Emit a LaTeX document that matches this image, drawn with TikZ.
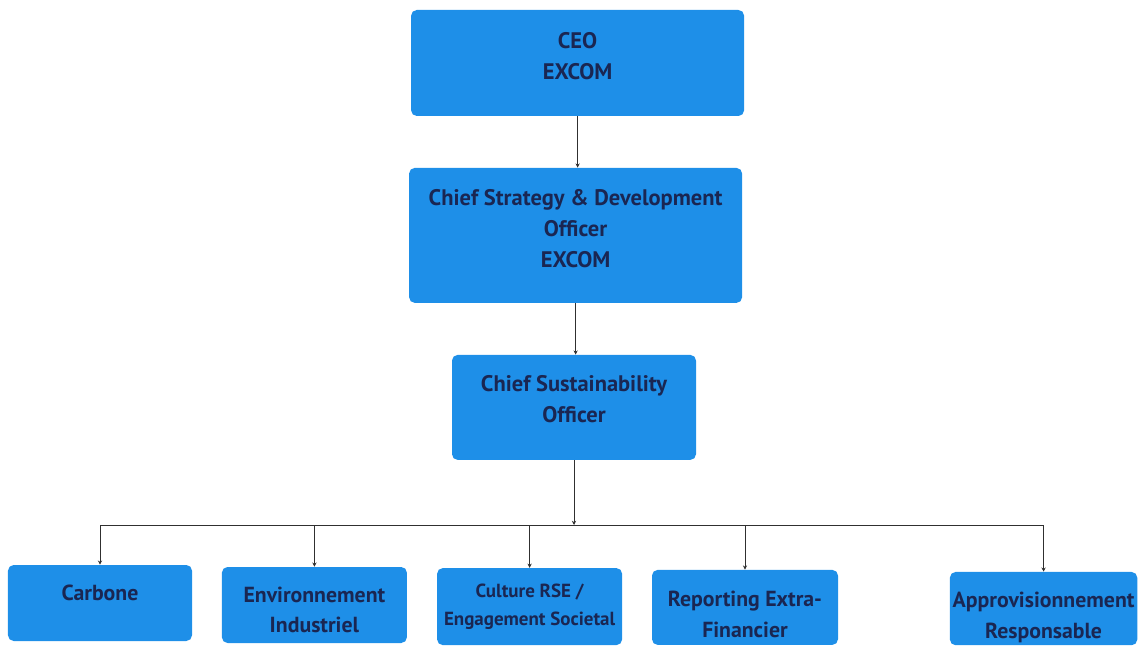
\documentclass[tikz,border=0pt]{standalone}
\usepackage{fontspec}
\setmainfont{PT Sans}
\usepackage{tikz}
\usetikzlibrary{arrows.meta,positioning,calc}
\definecolor{boxBlue}{HTML}{1E8FE8}
\definecolor{boxText}{HTML}{1A2652}
\definecolor{lineGray}{HTML}{303030}

\begin{document}
\begin{tikzpicture}[>={Stealth[length=3pt,width=3pt]},
  orgbox/.style={fill=boxBlue, rounded corners=4pt, align=center, text=boxText,
    font=\fontsize{16}{22}\selectfont\bfseries, inner sep=2pt},
  teambox/.style={orgbox, font=\fontsize{15.5}{22}\selectfont\bfseries},
  link/.style={->, lineGray, line width=0.6pt}]
\useasboundingbox (0,0) rectangle (28.475,16.125);
% top of the chart
\node[orgbox, minimum width=8.325cm, minimum height=2.65cm, text depth=10pt] (ceo) at (14.44,14.55) {CEO\\EXCOM};
\node[orgbox, minimum width=8.325cm, minimum height=3.375cm, text depth=10pt] (csdo) at (14.39,10.24)
  {Chief Strategy \& Development\\Officer\\EXCOM};
\node[orgbox, minimum width=6.1cm, minimum height=2.625cm, text depth=12pt] (cso) at (14.35,5.94)
  {Chief Sustainability\\Officer};
% teams
\node[teambox, minimum width=4.6cm, minimum height=1.9cm, text height=40pt] (carbone) at (2.5,1.05) {Carbone\\\phantom{X}};
\node[teambox, minimum width=4.625cm, minimum height=1.9cm, text height=40pt] (envind) at (7.86,1.0) {Environnement\\Industriel};
\node[teambox, minimum width=4.625cm, minimum height=1.925cm, font=\fontsize{13.5}{20}\selectfont\bfseries]
  (culture) at (13.24,0.96) {Culture RSE /\\Engagement Societal};
\node[teambox, minimum width=4.65cm, minimum height=1.875cm, text height=42.5pt] (reporting) at (18.625,0.94) {Reporting Extra-\\Financier};
\node[teambox, minimum width=4.675cm, minimum height=1.825cm, text height=45pt] (approv) at (26.09,0.91) {Approvisionnement\\Responsable};
% links
\coordinate (bus) at (cso.south |- 0,3.0);
\draw[link] (ceo.south) -- (ceo.south |- csdo.north);
\draw[link] (csdo.south) -- (csdo.south |- cso.north);
\draw[link] (cso.south) -- (bus);
\foreach \team in {carbone,envind,culture,reporting,approv}
  \draw[link] (bus) -| (\team.north);
\end{tikzpicture}
\end{document}
